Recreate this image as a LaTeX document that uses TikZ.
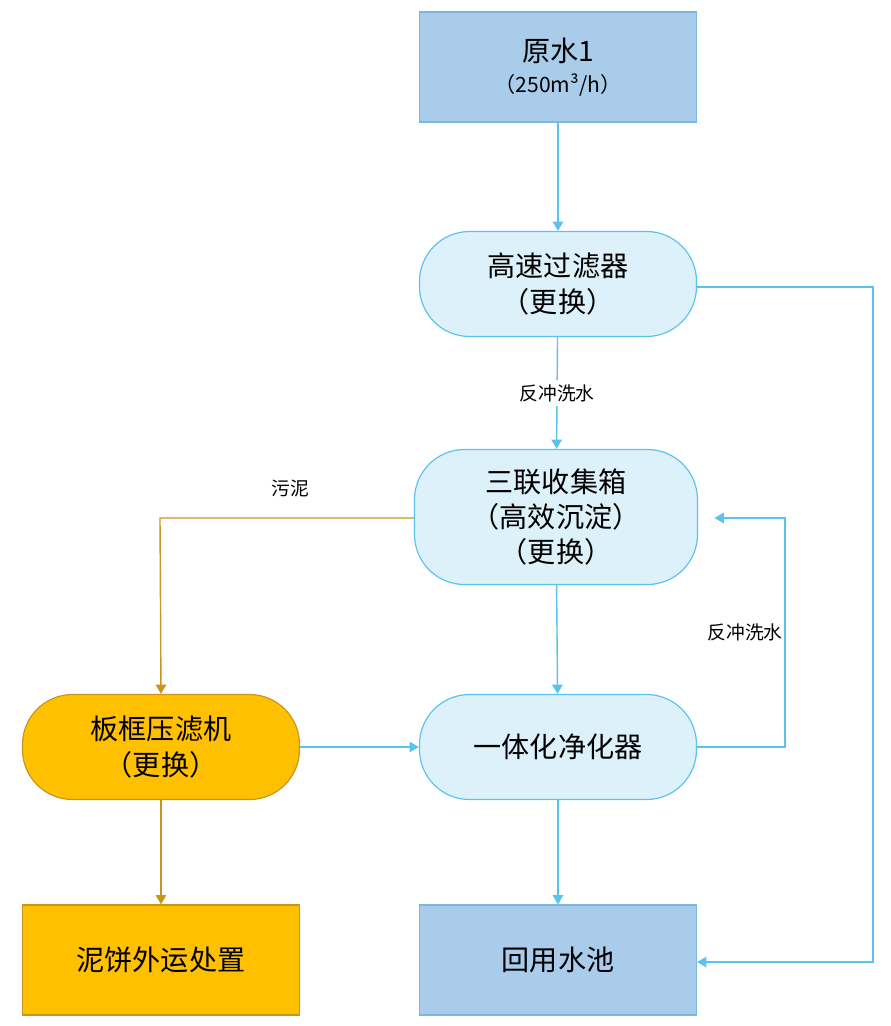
\documentclass[tikz,border=0pt]{standalone}
\usepackage{fontspec}
\usetikzlibrary{arrows.meta}
\newfontfamily\cjk{Noto Sans CJK SC}
\definecolor{boxblue}{HTML}{A9CCEA}
\definecolor{edgeblue}{HTML}{7FB6E0}
\definecolor{pillblue}{HTML}{DDF1FA}
\definecolor{linkblue}{HTML}{5BC2EC}
\definecolor{gold}{HTML}{FFC000}
\definecolor{golddark}{HTML}{C8961E}
\tikzset{
    box/.style={draw=edgeblue,fill=boxblue,line width=1pt,minimum width=8.31cm,minimum height=3.3cm,align=center,font=\cjk\fontsize{24}{30}\selectfont},
    pill/.style={draw=linkblue,fill=pillblue,line width=1pt,rounded corners=1.5cm,minimum width=8.31cm,minimum height=3.15cm,align=center,font=\cjk\fontsize{24}{30}\selectfont},
    flow/.style={draw=linkblue,line width=1.2pt,-{Triangle[length=8pt,width=9pt]}},
    mud/.style={draw=golddark,line width=1.2pt,-{Triangle[length=8pt,width=9pt]}},
    tag/.style={font=\cjk\fontsize{16}{20}\selectfont}
}
\begin{document}
\begin{tikzpicture}[x=0.03cm,y=-0.03cm]
    \useasboundingbox (0,0) rectangle (891,1026);
    \node[box] (raw) at (558,67) {原水1\\[-4pt]{\fontsize{18}{22}\selectfont （250m³/h）}};
    \node[pill] (filter) at (558,284) {高速过滤器\\（更换）};
    \node[pill,minimum width=8.49cm,minimum height=4.05cm] (tank) at (556,517) {三联收集箱\\（高效沉淀）\\（更换）};
    \node[pill] (purifier) at (558,747) {一体化净化器};
    \node[box] (pool) at (558,960) {回用水池};
    \node[pill,fill=gold,draw=golddark] (press) at (161,747) {板框压滤机\\（更换）};
    \node[box,fill=gold,draw=golddark] (cake) at (161,960) {泥饼外运处置};
    \coordinate (r1) at (785,747);
    \coordinate (r2) at (785,518);
    \coordinate (f1) at (873,287);
    \coordinate (f2) at (873,962);
    \coordinate (s1) at (160,518);
    % main flow
    \draw[flow] (raw) -- (filter);
    \draw[flow] (filter) -- node[fill=white,tag] {反冲洗水} (tank);
    \draw[flow] (tank) -- (purifier);
    \draw[flow] (purifier) -- (pool);
    \draw[flow] (press) -- (purifier);
    \draw[flow] (purifier.east) -- (r1) -- node[pos=0.5,left,tag,xshift=2pt] {反冲洗水} (r2) -- ([xshift=14pt]tank.east |- r2);
    \draw[flow] (filter.east |- f1) -- (f1) -- (f2) -- (pool.east |- f2);
    % sludge
    \draw[mud] (tank.west |- s1) -- (s1) -- (press.north);
    \node[tag] (sludge) at (290,488) {污泥};
    \draw[mud] (press) -- (cake);
\end{tikzpicture}
\end{document}
